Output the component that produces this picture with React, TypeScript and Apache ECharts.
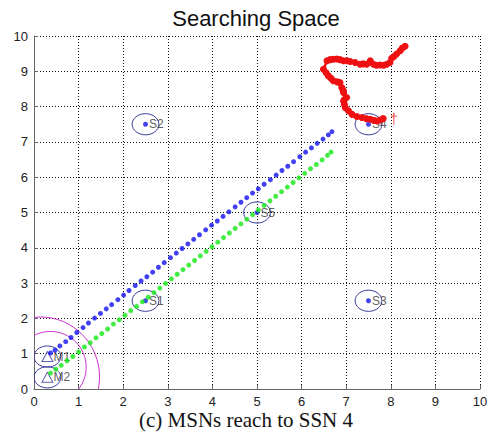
import React, { useEffect, useRef } from "react";
import * as echarts from "echarts";

// Axis ranges and tick step
const X_MIN = 0;
const X_MAX = 10;
const Y_MIN = 0;
const Y_MAX = 10;
const TICK_STEP = 1;

// Static sensor nodes (SSN)
const sensorNames = ["S1", "S2", "S3", "S4", "S5"];
const sensorX = [2.5, 2.5, 7.5, 7.5, 5.0];
const sensorY = [2.5, 7.5, 2.5, 7.5, 5.0];
const SENSOR_RANGE = 0.3;

// Mobile sensor nodes (MSN) start positions
const mobileNames = ["M1", "M2"];
const mobileX = [0.3, 0.3];
const mobileY = [0.92, 0.33];
const MOBILE_RANGE = 0.3;

// Communication ranges near the start (centre x, centre y, radius x, radius y)
const commCx = [0.15, 0.37];
const commCy = [0.34, 0.62];
const commRx = [1.32, 0.8];
const commRy = [1.7, 1.01];

// Trajectory of M1 (blue)
const blueX = [
  0.37, 0.47, 0.58, 0.71, 0.83, 0.96, 1.1, 1.22, 1.36, 1.49, 1.62, 1.74, 1.88, 2.01, 2.13, 2.27,
  2.4, 2.53, 2.66, 2.79, 2.92, 3.06, 3.19, 3.32, 3.45, 3.58, 3.71, 3.85, 3.98, 4.11, 4.24, 4.37,
  4.51, 4.64, 4.77, 4.9, 5.03, 5.16, 5.3, 5.43, 5.56, 5.69, 5.82, 5.96, 6.09, 6.22, 6.35, 6.48,
  6.6, 6.68,
];
const blueY = [
  1.02, 1.1, 1.22, 1.34, 1.46, 1.6, 1.74, 1.87, 2.01, 2.14, 2.27, 2.39, 2.53, 2.66, 2.79, 2.93,
  3.06, 3.18, 3.31, 3.45, 3.58, 3.72, 3.85, 3.98, 4.11, 4.24, 4.37, 4.51, 4.64, 4.76, 4.89, 5.02,
  5.16, 5.29, 5.42, 5.55, 5.67, 5.8, 5.93, 6.06, 6.19, 6.31, 6.44, 6.58, 6.71, 6.83, 6.96, 7.08,
  7.2, 7.29,
];

// Trajectory of M2 (green)
const greenX = [
  0.37, 0.49, 0.61, 0.74, 0.87, 1.0, 1.13, 1.26, 1.39, 1.52, 1.65, 1.78, 1.91, 2.04, 2.17, 2.3,
  2.43, 2.56, 2.69, 2.82, 2.95, 3.08, 3.21, 3.34, 3.47, 3.6, 3.73, 3.86, 3.99, 4.12, 4.25, 4.38,
  4.51, 4.64, 4.77, 4.9, 5.03, 5.16, 5.29, 5.42, 5.55, 5.68, 5.81, 5.94, 6.07, 6.2, 6.33, 6.46,
  6.58, 6.66,
];
const greenY = [
  0.45, 0.56, 0.67, 0.8, 0.92, 1.05, 1.19, 1.31, 1.45, 1.57, 1.7, 1.84, 1.96, 2.09, 2.22, 2.34,
  2.47, 2.6, 2.73, 2.86, 2.99, 3.12, 3.25, 3.38, 3.51, 3.64, 3.77, 3.9, 4.03, 4.16, 4.29, 4.42,
  4.55, 4.68, 4.81, 4.94, 5.07, 5.2, 5.33, 5.46, 5.59, 5.72, 5.85, 5.98, 6.11, 6.24, 6.36, 6.49,
  6.62, 6.71,
];

// Trajectory of the target (red), ending at S4
const redX = [
  8.32, 8.26, 8.21, 8.13, 8.07, 8.02, 7.98, 7.91, 7.84, 7.76, 7.68, 7.61, 7.54, 7.46, 7.38, 7.31,
  7.2, 7.09, 7.02, 6.94, 6.86, 6.79, 6.71, 6.64, 6.57, 6.49, 6.55, 6.6, 6.66, 6.71, 6.8, 6.86, 6.9,
  6.93, 6.94, 7.01, 6.96, 6.94, 6.96, 6.98, 7.05, 7.13, 7.24, 7.35, 7.45, 7.54, 7.62, 7.69, 7.76,
  7.83,
];
const redY = [
  9.71, 9.66, 9.58, 9.49, 9.42, 9.37, 9.25, 9.2, 9.17, 9.18, 9.17, 9.2, 9.3, 9.2, 9.21, 9.2, 9.25,
  9.28, 9.3, 9.3, 9.33, 9.35, 9.34, 9.33, 9.3, 9.06, 8.96, 8.87, 8.8, 8.73, 8.7, 8.68, 8.54, 8.46,
  8.4, 8.26, 8.2, 8.16, 8.06, 7.97, 7.88, 7.78, 7.72, 7.69, 7.66, 7.64, 7.61, 7.59, 7.62, 7.66,
];

// Heading marker of the target
const headingX = [8.07];
const headingY = [7.66];

const TITLE = "Searching Space";
const CAPTION = "(c) MSNs reach to SSN 4";

const zip = (xs: number[], ys: number[]) => xs.map((x, i) => [x, ys[i]]);

function ellipseItem(color: string) {
  return (params: any, api: any) => {
    const c = api.coord([api.value(0), api.value(1)]);
    const s = api.size([api.value(2), api.value(3)]);
    return {
      type: "ellipse",
      shape: { cx: c[0], cy: c[1], rx: s[0], ry: s[1] },
      style: { fill: "none", stroke: color, lineWidth: 1 },
    };
  };
}

export default function App() {
  const ref = useRef<HTMLDivElement>(null);

  useEffect(() => {
    if (!ref.current) return;
    const chart = echarts.init(ref.current, null, { renderer: "svg" });

    const axisCommon = {
      type: "value" as const,
      interval: TICK_STEP,
      axisLine: { show: true, onZero: false, lineStyle: { color: "#666", width: 1 } },
      axisTick: { show: true, inside: true, length: 4, lineStyle: { color: "#666" } },
      splitLine: { show: true, lineStyle: { color: "#111", width: 1, type: [1, 2] } },
      axisLabel: { color: "#222", fontSize: 13, fontFamily: "Liberation Sans, Arial, sans-serif" },
    };

    const labelFont = {
      color: "#333",
      fontSize: 12,
      fontFamily: "Liberation Sans, Arial, sans-serif",
    };

    chart.setOption({
      animation: false,
      backgroundColor: "#fff",
      grid: { left: 34, right: 12, top: 36, bottom: 52, containLabel: false },
      xAxis: { ...axisCommon, min: X_MIN, max: X_MAX, axisLabel: { ...axisCommon.axisLabel, margin: 6 } },
      yAxis: { ...axisCommon, min: Y_MIN, max: Y_MAX, axisLabel: { ...axisCommon.axisLabel, margin: 6 } },
      graphic: [
        {
          type: "text",
          x: 256,
          y: 18,
          style: {
            text: TITLE,
            font: "22px 'Liberation Sans', Arial, sans-serif",
            fill: "#111",
            textAlign: "center",
            textVerticalAlign: "middle",
          },
        },
        {
          type: "text",
          x: 246,
          y: 420,
          style: {
            text: CAPTION,
            font: "21px 'Liberation Serif', 'Times New Roman', serif",
            fill: "#111",
            textAlign: "center",
            textVerticalAlign: "middle",
          },
        },
      ],
      series: [
        {
          name: "comm",
          type: "custom",
          clip: true,
          renderItem: ellipseItem("#cc33cc"),
          data: commCx.map((x, i) => [x, commCy[i], commRx[i], commRy[i]]),
          z: 2,
        },
        {
          name: "sensorRange",
          type: "custom",
          clip: true,
          renderItem: ellipseItem("#3a3a9c"),
          data: sensorX.map((x, i) => [x, sensorY[i], SENSOR_RANGE, SENSOR_RANGE]),
          z: 2,
        },
        {
          name: "mobileRange",
          type: "custom",
          clip: true,
          renderItem: ellipseItem("#3a3a9c"),
          data: mobileX.map((x, i) => [x, mobileY[i], MOBILE_RANGE, MOBILE_RANGE]),
          z: 2,
        },
        {
          name: "sensors",
          type: "scatter",
          symbol: "circle",
          symbolSize: 5,
          itemStyle: { color: "#1515e8" },
          label: {
            show: true,
            position: "right",
            distance: 1,
            formatter: (p: any) => sensorNames[p.dataIndex],
            ...labelFont,
          },
          data: zip(sensorX, sensorY),
          z: 3,
        },
        {
          name: "mobiles",
          type: "scatter",
          symbol: "triangle",
          symbolSize: [11, 10],
          itemStyle: { color: "rgba(0,0,0,0)", borderColor: "#3a3a9c", borderWidth: 1 },
          label: {
            show: true,
            position: "right",
            distance: 0,
            formatter: (p: any) => mobileNames[p.dataIndex],
            ...labelFont,
          },
          data: zip(mobileX, mobileY),
          z: 3,
        },
        {
          name: "M1 path",
          type: "scatter",
          symbol: "circle",
          symbolSize: 5,
          itemStyle: { color: "#1212f0" },
          data: zip(blueX, blueY),
          z: 4,
        },
        {
          name: "M2 path",
          type: "scatter",
          symbol: "circle",
          symbolSize: 5,
          itemStyle: { color: "#14e814" },
          data: zip(greenX, greenY),
          z: 4,
        },
        {
          name: "target",
          type: "line",
          symbol: "circle",
          symbolSize: 7,
          showSymbol: true,
          lineStyle: { color: "#ee1111", width: 2.5 },
          itemStyle: { color: "#ee1111" },
          data: zip(redX, redY),
          z: 5,
        },
        {
          name: "heading",
          type: "scatter",
          symbolSize: 0,
          label: {
            show: true,
            position: "inside",
            formatter: "†",
            color: "#ee1111",
            fontSize: 14,
            fontFamily: "Liberation Sans, Arial, sans-serif",
          },
          data: zip(headingX, headingY),
          z: 5,
        },
      ],
    });

    return () => chart.dispose();
  }, []);

  return (
    <div
      ref={ref}
      style={{ position: "fixed", left: 0, top: 0, width: 492, height: 441, background: "#fff" }}
    />
  );
}
